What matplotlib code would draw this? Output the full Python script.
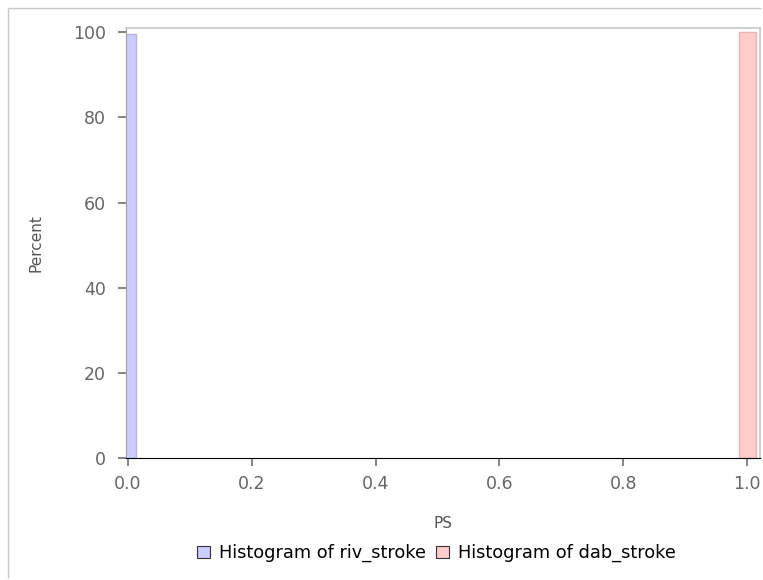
import matplotlib
matplotlib.use("Agg")
import matplotlib.pyplot as plt
from matplotlib.lines import Line2D

# histogram bins (left edge, width, percent)
riv_left = [-0.004]
riv_width = [0.0175]
riv_pct = [99.6]

dab_left = [0.9866]
dab_width = [0.0274]
dab_pct = [100.0]

xticks = [0.0, 0.2, 0.4, 0.6, 0.8, 1.0]
yticks = [0, 20, 40, 60, 80, 100]

fig = plt.figure(figsize=(7.63, 5.8), dpi=100)
ax = fig.add_axes([0.1645, 0.2103, 0.8315, 0.7406])

# outer frame, only top and left edges are inside the image
fx = 7.5 / 763
fy = 1 - 7.5 / 580
fig.lines.append(Line2D([fx, 0.997], [fy, fy], transform=fig.transFigure,
                        color="#c8c8c8", linewidth=1, solid_capstyle="butt"))
fig.lines.append(Line2D([fx, fx], [0.003, fy], transform=fig.transFigure,
                        color="#c8c8c8", linewidth=1, solid_capstyle="butt"))

ax.bar(riv_left, riv_pct, width=riv_width, align="edge",
       color="#ccccff", edgecolor="#b4b4e0", linewidth=1,
       label="Histogram of riv_stroke")
ax.bar(dab_left, dab_pct, width=dab_width, align="edge",
       color="#ffcccc", edgecolor="#e8b4b4", linewidth=1,
       label="Histogram of dab_stroke")

ax.set_xlim(-0.0035, 1.0205)
ax.set_ylim(0, 100.9)
ax.set_xticks(xticks)
ax.set_xticklabels(["%.1f" % v for v in xticks])
ax.set_yticks(yticks)

for s in ["top", "right"]:
    ax.spines[s].set_color("#c4c8c8")
    ax.spines[s].set_linewidth(1.2)
ax.spines["left"].set_color("#a0a0a0")
ax.spines["bottom"].set_color("black")

ax.tick_params(axis="both", colors="#707070", labelcolor="#666666",
               labelsize=12.5, length=6, width=1.2, pad=6)
ax.tick_params(axis="y", pad=8)

ax.set_xlabel("PS", fontsize=11, color="#555555", labelpad=17)
ax.set_ylabel("Percent", fontsize=11, color="#555555", labelpad=21)

leg = ax.legend(loc="upper center", bbox_to_anchor=(0.49, -0.163), ncol=2,
                frameon=False, fontsize=12.8, handlelength=0.7,
                handleheight=0.7, handletextpad=0.5, columnspacing=0.6)
for h in leg.legend_handles:
    h.set_edgecolor("#333333")
    h.set_linewidth(0.8)

fig.savefig("out.png", dpi=100)
